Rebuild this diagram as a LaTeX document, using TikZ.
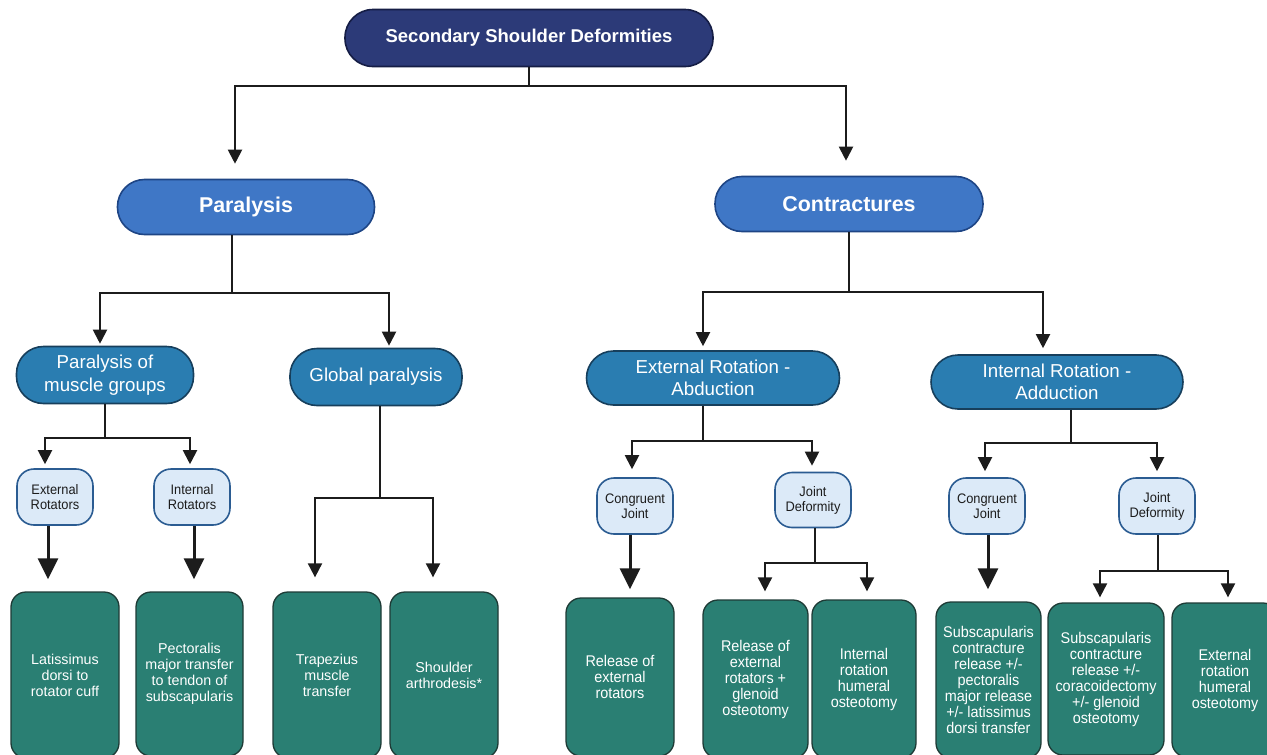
\documentclass[tikz,border=0pt]{standalone}
\usepackage{fontspec}
\setmainfont{Liberation Sans}
\newfontfamily\condfont[FakeStretch=0.93]{Liberation Sans}
\usetikzlibrary{arrows.meta}
\definecolor{navyc}{HTML}{2C3A78}
\definecolor{navyb}{HTML}{151D45}
\definecolor{mbluec}{HTML}{3F77C6}
\definecolor{mblueb}{HTML}{1E4585}
\definecolor{sbluec}{HTML}{2A7DB1}
\definecolor{sblueb}{HTML}{173F5C}
\definecolor{lbluec}{HTML}{DCEAF8}
\definecolor{lblueb}{HTML}{2B5C92}
\definecolor{leafc}{HTML}{2A7F73}
\definecolor{leafb}{HTML}{1E3B36}
\definecolor{linec}{HTML}{1C1C1C}
\begin{document}
\begin{tikzpicture}[x=1pt,y=-1pt,
  base/.style={draw, line width=1.6pt, inner sep=0pt, align=center, text=white},
  topbox/.style={base, fill=navyc, draw=navyb, minimum width=368pt, minimum height=57pt, rounded corners=28pt, font=\fontsize{18.5}{22}\selectfont\bfseries},
  mainbox/.style={base, fill=mbluec, draw=mblueb, minimum height=55pt, rounded corners=27pt, font=\fontsize{21.4}{25}\selectfont\bfseries},
  subbox/.style={base, fill=sbluec, draw=sblueb, rounded corners=27pt, font=\fontsize{18.7}{22.5}\selectfont},
  smallbox/.style={base, fill=lbluec, draw=lblueb, text=linec, minimum width=76pt, minimum height=56pt, rounded corners=17pt, font=\condfont\fontsize{13.8}{15}\selectfont},
  leaf/.style={base, line width=1.3pt, fill=leafc, draw=leafb, rounded corners=15pt, font=\fontsize{14.3}{16}\selectfont},
  cleaf/.style={leaf, font=\condfont\fontsize{15.5}{16}\selectfont},
  conn/.style={line width=2pt, draw=linec},
  arr/.style={conn, -{Triangle[width=14pt,length=14pt]}},
  bigarr/.style={line width=3pt, draw=linec, -{Triangle[width=20pt,length=21pt]}}
]
\clip (0,0) rectangle (1267,755);
\fill[white] (0,0) rectangle (1267,755);

% nodes
\node[topbox] (top) at (529,38) {Secondary Shoulder Deformities};
\node[mainbox, minimum width=257pt] (para) at (246,207) {Paralysis};
\node[mainbox, minimum width=268pt] (contr) at (849,204) {Contractures};

\node[subbox, minimum width=177pt, minimum height=57pt] (pmg) at (105,375) {Paralysis of\\muscle groups};
\node[subbox, minimum width=172pt, minimum height=57pt] (gp) at (376,377) {Global paralysis};
\node[subbox, minimum width=253pt, minimum height=54pt] (era) at (713,378) {External Rotation -\\Abduction};
\node[subbox, minimum width=252pt, minimum height=54pt] (ira) at (1057,382) {Internal Rotation -\\Adduction};

\node[smallbox] (er) at (55,497) {External\\Rotators};
\node[smallbox] (ir) at (192,497) {Internal\\Rotators};
\node[smallbox] (cj1) at (635,506) {Congruent\\Joint};
\node[smallbox, minimum height=55pt] (jd1) at (813,500) {Joint\\Deformity};
\node[smallbox] (cj2) at (987,506) {Congruent\\Joint};
\node[smallbox] (jd2) at (1157,506) {Joint\\Deformity};

\node[leaf, minimum width=108pt, minimum height=166pt] (l1) at (65,675) {Latissimus\\dorsi to\\rotator cuff};
\node[leaf, minimum width=107pt, minimum height=164pt] (l2) at (189.5,674) {Pectoralis\\major transfer\\to tendon of\\subscapularis};
\node[leaf, minimum width=108pt, minimum height=166pt] (l3) at (327,675) {Trapezius\\muscle\\transfer};
\node[leaf, minimum width=108pt, minimum height=166pt] (l4) at (444,675) {Shoulder\\arthrodesis*};
\node[cleaf, minimum width=108pt, minimum height=158pt] (l5) at (620,677) {Release of\\external\\rotators};
\node[cleaf, minimum width=105pt, minimum height=158pt] (l6) at (755.5,679) {Release of\\external\\rotators +\\glenoid\\osteotomy};
\node[cleaf, minimum width=104pt, minimum height=158pt] (l7) at (864,679) {Internal\\rotation\\humeral\\osteotomy};
\node[cleaf, minimum width=105pt, minimum height=156pt] (l8) at (988.5,680) {Subscapularis\\contracture\\release +/-\\pectoralis\\major release\\+/- latissimus\\dorsi transfer};
\node[cleaf, minimum width=116pt, minimum height=152pt] (l9) at (1106,679) {Subscapularis\\contracture\\release +/-\\coracoidectomy\\+/- glenoid\\osteotomy};
\node[cleaf, minimum width=106pt, minimum height=154pt] (l10) at (1225,680) {External\\rotation\\humeral\\osteotomy};

% junction coordinates
\coordinate (j0) at (529,86);
\coordinate (t1) at (235,86);
\coordinate (t2) at (846,86);
\coordinate (p0) at (232,293);
\coordinate (p1) at (100,293);
\coordinate (p2) at (389,293);
\coordinate (m0) at (105,438);
\coordinate (m1) at (45,438);
\coordinate (m2) at (190,438);
\coordinate (g0) at (380,498);
\coordinate (g1) at (315,498);
\coordinate (g2) at (433,498);
\coordinate (c0) at (849,292);
\coordinate (c1) at (703,292);
\coordinate (c2) at (1043,292);
\coordinate (a0) at (703,441);
\coordinate (a1) at (632,441);
\coordinate (a2) at (812,441);
\coordinate (d0) at (815,563);
\coordinate (d1) at (765,563);
\coordinate (d2) at (867,563);
\coordinate (b0) at (1071,443);
\coordinate (b1) at (985,443);
\coordinate (b2) at (1157,443);
\coordinate (f0) at (1158,571);
\coordinate (f1) at (1100,571);
\coordinate (f2) at (1228,571);
\coordinate (xa) at (48,0);
\coordinate (xb) at (194,0);
\coordinate (xc) at (630,0);
\coordinate (xd) at (988,0);

% connectors
\draw[arr, shorten >=15pt] (top.south) -- (j0) -- (t1) -- (t1 |- para.north);
\draw[arr, shorten >=15pt] (top.south) -- (j0) -- (t2) -- (t2 |- contr.north);

\draw[arr, shorten >=2pt] (para.south -| p0) -- (p0) -- (p1) -- (p1 |- pmg.north);
\draw[arr, shorten >=2pt] (para.south -| p0) -- (p0) -- (p2) -- (p2 |- gp.north);

\draw[arr, shorten >=4pt] (pmg.south -| m0) -- (m0) -- (m1) -- (m1 |- er.north);
\draw[arr, shorten >=4pt] (pmg.south -| m0) -- (m0) -- (m2) -- (m2 |- ir.north);

\draw[bigarr, shorten >=12pt] (er.south -| xa) -- (xa |- l1.north);
\draw[bigarr, shorten >=12pt] (ir.south -| xb) -- (xb |- l2.north);

\draw[arr, shorten >=14pt] (gp.south -| g0) -- (g0) -- (g1) -- (g1 |- l3.north);
\draw[arr, shorten >=14pt] (gp.south -| g0) -- (g0) -- (g2) -- (g2 |- l4.north);

\draw[arr, shorten >=4pt] (contr.south -| c0) -- (c0) -- (c1) -- (c1 |- era.north);
\draw[arr, shorten >=6pt] (contr.south -| c0) -- (c0) -- (c2) -- (c2 |- ira.north);

\draw[arr, shorten >=8pt] (era.south -| a0) -- (a0) -- (a1) -- (a1 |- cj1.north);
\draw[arr, shorten >=6pt] (era.south -| a0) -- (a0) -- (a2) -- (a2 |- jd1.north);

\draw[bigarr, shorten >=8pt] (cj1.south -| xc) -- (xc |- l5.north);

\draw[arr, shorten >=8pt] (jd1.south -| d0) -- (d0) -- (d1) -- (d1 |- l6.north);
\draw[arr, shorten >=8pt] (jd1.south -| d0) -- (d0) -- (d2) -- (d2 |- l7.north);

\draw[arr, shorten >=6pt] (ira.south -| b0) -- (b0) -- (b1) -- (b1 |- cj2.north);
\draw[arr, shorten >=6pt] (ira.south -| b0) -- (b0) -- (b2) -- (b2 |- jd2.north);

\draw[bigarr, shorten >=12pt] (cj2.south -| xd) -- (xd |- l8.north);

\draw[arr, shorten >=5pt] (jd2.south -| f0) -- (f0) -- (f1) -- (f1 |- l9.north);
\draw[arr, shorten >=5pt] (jd2.south -| f0) -- (f0) -- (f2) -- (f2 |- l10.north);
\end{tikzpicture}
\end{document}
